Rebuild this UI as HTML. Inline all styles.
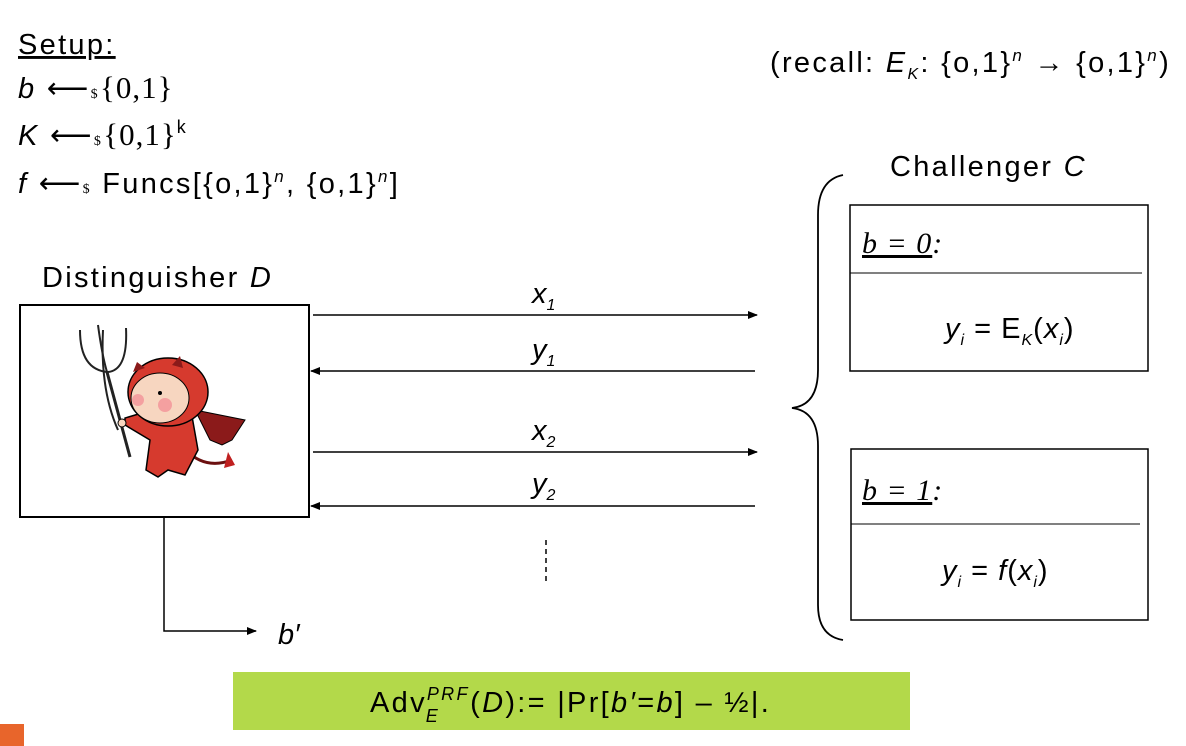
<!DOCTYPE html>
<html><head><meta charset="utf-8"><style>
html,body{margin:0;padding:0;background:#fff;}
svg{display:block;font-family:"Liberation Sans",sans-serif;}
.t{letter-spacing:2.3px;}
</style></head><body>
<svg width="1186" height="746" viewBox="0 0 1186 746">
<defs>
<marker id="ah" markerWidth="10" markerHeight="8" refX="9" refY="4" orient="auto" markerUnits="userSpaceOnUse"><path d="M0,0 L10,4 L0,8 z" fill="#000"/></marker>
</defs>
<g font-size="29" fill="#000" class="t">
<text x="18" y="54" text-decoration="underline">Setup:</text>
<text x="18" y="98"><tspan font-style="italic">b</tspan> ⟵<tspan font-size="14" font-family="Liberation Serif">$</tspan><tspan font-family="Liberation Serif" font-size="31" letter-spacing="1">{0,1}</tspan></text>
<text x="18" y="145"><tspan font-style="italic">K</tspan> ⟵<tspan font-size="14" font-family="Liberation Serif">$</tspan><tspan font-family="Liberation Serif" font-size="31" letter-spacing="1">{0,1}</tspan><tspan font-size="18" dy="-12">k</tspan></text>
<text x="18" y="193"><tspan font-style="italic">f</tspan> ⟵<tspan font-size="14" font-family="Liberation Serif">$</tspan> Funcs[{o,1}<tspan font-size="17" dy="-11" font-style="italic">n</tspan><tspan dy="11">, {o,1}</tspan><tspan font-size="17" dy="-11" font-style="italic">n</tspan><tspan dy="11">]</tspan></text>
</g>
<text class="t" x="770" y="72" font-size="29">(recall: <tspan font-style="italic">E</tspan><tspan font-size="16" dy="7" font-style="italic">K</tspan><tspan dy="-7">: {o,1}</tspan><tspan font-size="17" dy="-11" font-style="italic">n</tspan><tspan dy="11">  →  {o,1}</tspan><tspan font-size="17" dy="-11" font-style="italic">n</tspan><tspan dy="11">)</tspan></text>

<text class="t" x="42" y="287" font-size="29">Distinguisher <tspan font-style="italic">D</tspan></text>
<rect x="20" y="305" width="289" height="212" fill="#fff" stroke="#000" stroke-width="2"/>
<g>
<path d="M103,330 Q100,390 118,430" stroke="#222" stroke-width="2" fill="none"/>
<path d="M80,330 Q80,370 108,372 Q128,370 126,328" stroke="#222" stroke-width="2" fill="none"/>
<path d="M98,325 Q102,355 107,372" stroke="#222" stroke-width="2" fill="none"/>
<line x1="107" y1="372" x2="130" y2="457" stroke="#222" stroke-width="3"/>
<path d="M195,410 L245,420 L232,440 L222,445 L210,440 Z" fill="#8b1a1a" stroke="#000"/>
<path d="M186,450 Q205,470 232,460" stroke="#6b1010" stroke-width="3" fill="none"/>
<path d="M228,452 L235,465 L224,468 Z" fill="#c02020"/>
<path d="M152,410 L190,405 L198,450 L185,475 L168,470 L158,477 L146,470 L150,440 L125,425 L125,418 Z" fill="#d63a2e" stroke="#000" stroke-width="1.5"/>
<ellipse cx="168" cy="392" rx="40" ry="34" fill="#d63a2e" stroke="#000" stroke-width="1.5"/>
<ellipse cx="160" cy="398" rx="29" ry="25" fill="#f7d6c0" stroke="#000"/>
<circle cx="138" cy="400" r="6" fill="#f4a0a0"/><circle cx="165" cy="405" r="7" fill="#f4a0a0"/>
<circle cx="160" cy="393" r="2" fill="#000"/>
<path d="M133,372 L137,362 L145,368 Z" fill="#8b1a1a"/><path d="M172,365 L180,356 L183,368 Z" fill="#8b1a1a"/>
<circle cx="122" cy="423" r="4" fill="#f7d6c0" stroke="#000"/>
</g>

<g stroke="#000" stroke-width="1.5">
<line x1="313" y1="315" x2="757" y2="315" marker-end="url(#ah)"/>
<line x1="755" y1="371" x2="311" y2="371" marker-end="url(#ah)"/>
<line x1="313" y1="452" x2="757" y2="452" marker-end="url(#ah)"/>
<line x1="755" y1="506" x2="311" y2="506" marker-end="url(#ah)"/>
<line x1="546" y1="540" x2="546" y2="582" stroke-dasharray="5,4"/>
<polyline points="164,517 164,631 256,631" fill="none" marker-end="url(#ah)"/>
</g>
<g font-size="29" font-style="italic">
<text x="532" y="303">x<tspan font-size="16" dy="7">1</tspan></text>
<text x="532" y="359">y<tspan font-size="16" dy="7">1</tspan></text>
<text x="532" y="440">x<tspan font-size="16" dy="7">2</tspan></text>
<text x="532" y="493">y<tspan font-size="16" dy="7">2</tspan></text>
<text x="278" y="644">b′</text>
</g>

<text class="t" x="890" y="176" font-size="29">Challenger <tspan font-style="italic">C</tspan></text>
<path d="M843,175 Q818,180 818,215 L818,370 Q818,405 792,408 Q818,411 818,446 L818,605 Q818,636 843,640" fill="none" stroke="#000" stroke-width="1.8"/>

<g>
<rect x="850" y="205" width="298" height="166" fill="#fff" stroke="#000" stroke-width="1.5"/>
<line x1="850" y1="273" x2="1142" y2="273" stroke="#000"/>
<text x="862" y="253" font-size="30" font-family="Liberation Serif" font-style="italic" letter-spacing="1"><tspan text-decoration="underline">b = 0</tspan>:</text>
<text x="945" y="338" font-size="29" letter-spacing="1"><tspan font-style="italic">y</tspan><tspan font-size="16" dy="7" font-style="italic">i</tspan><tspan dy="-7"> = E</tspan><tspan font-size="16" dy="7" font-style="italic">K</tspan><tspan dy="-7">(</tspan><tspan font-style="italic">x</tspan><tspan font-size="16" dy="7" font-style="italic">i</tspan><tspan dy="-7">)</tspan></text>
</g>
<g>
<rect x="851" y="449" width="297" height="171" fill="#fff" stroke="#000" stroke-width="1.5"/>
<line x1="851" y1="524" x2="1140" y2="524" stroke="#000"/>
<text x="862" y="500" font-size="30" font-family="Liberation Serif" font-style="italic" letter-spacing="1"><tspan text-decoration="underline">b = 1</tspan>:</text>
<text x="942" y="580" font-size="29" letter-spacing="1"><tspan font-style="italic">y</tspan><tspan font-size="16" dy="7" font-style="italic">i</tspan><tspan dy="-7"> = </tspan><tspan font-style="italic">f</tspan>(<tspan font-style="italic">x</tspan><tspan font-size="16" dy="7" font-style="italic">i</tspan><tspan dy="-7">)</tspan></text>
</g>

<rect x="233" y="672" width="677" height="58" fill="#b3d94a"/>
<text class="t" x="370" y="712" font-size="29">Adv<tspan font-size="18" dy="-12" font-style="italic">PRF</tspan><tspan font-size="18" dx="-44" dy="22" font-style="italic">E</tspan><tspan dx="30" dy="-10">(</tspan><tspan font-style="italic">D</tspan>):= |Pr[<tspan font-style="italic">b′</tspan>=<tspan font-style="italic">b</tspan>] – ½|.</text>
<rect x="0" y="724" width="24" height="22" fill="#e8652b"/>
</svg>
</body></html>
